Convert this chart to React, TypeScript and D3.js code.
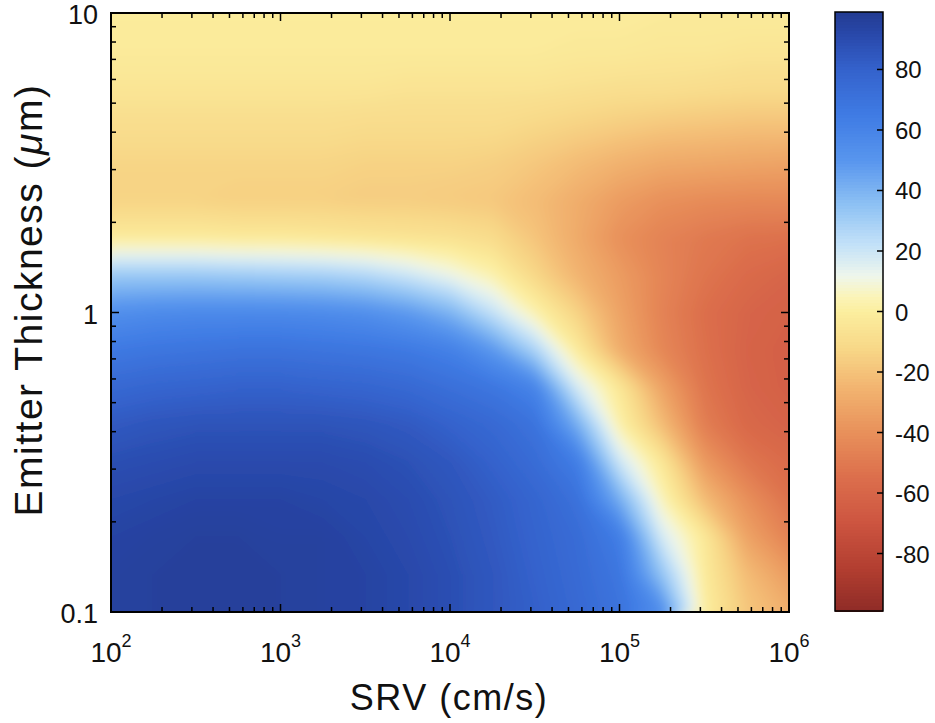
import React from 'react';
import * as d3 from 'd3';

// grid of SRV values (cm/s), left -> right
const srvGrid = [1e2, 1.78e2, 3.16e2, 5.62e2, 1e3, 1.78e3, 3.16e3, 5.62e3, 1e4, 1.78e4, 3.16e4, 5.62e4, 1e5, 1.78e5, 3.16e5, 5.62e5, 1e6];
// grid of emitter thickness (um), top -> bottom
const thickGrid = [10, 7.5, 5.62, 4.22, 3.16, 2.37, 1.78, 1.33, 1, 0.75, 0.562, 0.422, 0.316, 0.237, 0.178, 0.133, 0.1];

// values, one row per thickness
const row10 = [-1, -1, -1, -1, -1, -1, -1, -1, -1, -1, -1, -1, -1, -2, -2, -2, -2];
const row7_5 = [-2, -2, -2, -2, -2, -2, -2, -2, -2, -2, -2, -3, -3, -4, -4, -5, -5];
const row5_62 = [-5, -5, -5, -5, -5, -5, -5, -6, -6, -6, -6, -7, -8, -8, -9, -10, -10];
const row4_22 = [-9, -9, -9, -9, -9, -9, -10, -10, -10, -10, -12, -14, -16, -18, -19, -20, -20];
const row3_16 = [-13, -13, -13, -13, -13, -13, -14, -14, -14, -15, -18, -22, -26, -29, -30, -31, -32];
const row2_37 = [-14, -14, -14, -15, -15, -15, -16, -16, -17, -18, -22, -28, -35, -40, -42, -43, -43];
const row1_78 = [-2, -2, -2, -3, -3, -4, -5, -6, -7, -10, -19, -29, -40, -46, -50, -53, -54];
const row1_33 = [32, 32, 32, 31, 30, 29, 26, 20, 12, 3, -12, -25, -35, -45, -52, -57, -60];
const row1 = [54, 56, 57, 57, 57, 56, 54, 49, 40, 22, 3, -14, -32, -46, -55, -60, -62];
const row0_75 = [66, 68, 69, 70, 70, 69, 68, 66, 62, 50, 28, -2, -28, -44, -54, -61, -63];
const row0_562 = [76, 78, 79, 80, 80, 79, 78, 76, 72, 68, 60, 18, -4, -32, -52, -60, -63];
const row0_422 = [84, 86, 87, 87, 87, 87, 86, 84, 80, 76, 70, 42, 2, -22, -48, -58, -61];
const row0_316 = [89, 90, 91, 91, 91, 91, 90, 88, 85, 80, 74, 64, 20, -4, -36, -51, -57];
const row0_237 = [92, 93, 94, 94, 94, 93, 92, 90, 87, 83, 78, 71, 42, 5, -22, -40, -53];
const row0_178 = [94, 95, 96, 96, 95, 95, 93, 91, 88, 84, 79, 74, 64, 18, -3, -32, -46];
const row0_133 = [95, 96, 96, 96, 96, 95, 94, 92, 89, 85, 80, 75, 68, 34, -2, -22, -35];
const row0_1 = [95, 96, 96, 96, 96, 95, 94, 92, 89, 85, 81, 76, 70, 55, 0, -18, -27];

const rows = [row10, row7_5, row5_62, row4_22, row3_16, row2_37, row1_78, row1_33, row1,
  row0_75, row0_562, row0_422, row0_316, row0_237, row0_178, row0_133, row0_1];

// tick labels
const xTickExps = [2, 3, 4, 5, 6];
const yTickVals = [0.1, 1, 10];
const yTickLabels = ['0.1', '1', '10'];
const cbTicks = [-80, -60, -40, -20, 0, 20, 40, 60, 80];

// colormap
const cmapStops = [-100, -85, -70, -55, -40, -25, -12, 0, 5, 12, 22, 35, 50, 65, 80, 90, 100];
const cmapColors = ['#8c2a26', '#b23e30', '#cc5440', '#dc6e4c', '#e8905a', '#f2b470', '#f8d888', '#fbee9e',
  '#fbf4b8', '#eef6ec', '#c4e2f8', '#8fc2f4', '#5896ee', '#3f7be4', '#3462cc', '#2a4cb0', '#22398f'];

const W = 935;
const H = 723;
const font = 'Liberation Sans, Arial, Helvetica, sans-serif';

export default function App() {
  const left = 111, right = 789, top = 13, bottom = 612;
  const barL = 835, barR = 883, barT = 12, barB = 611;

  const x = d3.scaleLog().domain([1e2, 1e6]).range([left, right]);
  const y = d3.scaleLog().domain([0.1, 10]).range([bottom, top]);
  const cb = d3.scaleLinear().domain([-99, 99]).range([barB, barT]);
  const color = d3.scaleLinear<string>().domain(cmapStops).range(cmapColors)
    .interpolate(d3.interpolateRgb).clamp(true);

  // filled contours over the grid (grid point j sits at contour coord j + 0.5)
  const nx = srvGrid.length, ny = thickGrid.length;
  const px = srvGrid.map(v => x(v));
  const py = thickGrid.map(v => y(v));
  const dx = (px[nx - 1] - px[0]) / (nx - 1);
  const dy = (py[ny - 1] - py[0]) / (ny - 1);
  const flat = ([] as number[]).concat(...rows);
  const levels = d3.range(-100, 100, 1);
  const bands = d3.contours().size([nx, ny]).thresholds(levels)(flat);
  const path = d3.geoPath(d3.geoTransform({
    point(cx: number, cy: number) {
      (this as any).stream.point(px[0] + (cx - 0.5) * dx, py[0] + (cy - 0.5) * dy);
    }
  }));

  const xt = x.ticks();
  const yt = y.ticks();
  const isMajor = (v: number) => Math.abs(Math.log10(v) - Math.round(Math.log10(v))) < 1e-6;

  const barSteps = d3.range(-99, 99, 1);

  return (
    <svg width={W} height={H} style={{ display: 'block', position: 'absolute', left: 0, top: 0 }} fontFamily={font}>
      <rect width={W} height={H} fill="#fff" />
      <defs>
        <clipPath id="plotClip">
          <rect x={left} y={top} width={right - left} height={bottom - top} />
        </clipPath>
        <filter id="smooth" filterUnits="userSpaceOnUse" x={-100} y={-120} width={W + 200} height={H + 240}>
          <feGaussianBlur stdDeviation="6 7" />
        </filter>
      </defs>

      <g clipPath="url(#plotClip)">
        <g filter="url(#smooth)">
          {bands.map(b => (
            <path key={'b' + b.value} d={path(b as any) || ''} fill={color(b.value + 0.5)} stroke={color(b.value + 0.5)} strokeWidth={0.6} />
          ))}
        </g>
      </g>

      {/* ticks */}
      <g stroke="#000" strokeWidth={1.5}>
        {xt.map((v, k) => {
          const len = isMajor(v) ? 8 : 5;
          return (
            <g key={'xt' + k}>
              <line x1={x(v)} x2={x(v)} y1={bottom} y2={bottom - len} />
              <line x1={x(v)} x2={x(v)} y1={top} y2={top + len} />
            </g>
          );
        })}
        {yt.map((v, k) => {
          const len = isMajor(v) ? 8 : 5;
          return (
            <g key={'yt' + k}>
              <line x1={left} x2={left + len} y1={y(v)} y2={y(v)} />
              <line x1={right} x2={right - len} y1={y(v)} y2={y(v)} />
            </g>
          );
        })}
      </g>
      <rect x={left} y={top} width={right - left} height={bottom - top} fill="none" stroke="#000" strokeWidth={2} />

      {/* x tick labels */}
      {xTickExps.map(e => (
        <text key={'xl' + e} x={x(Math.pow(10, e))} y={662} textAnchor="middle" fontSize={28} fill="#111">
          10<tspan dy={-15} fontSize={18}>{e}</tspan>
        </text>
      ))}
      {/* y tick labels */}
      {yTickVals.map((v, k) => (
        <text key={'yl' + k} x={98} y={y(v) + 11} textAnchor="end" fontSize={27} fill="#111">{yTickLabels[k]}</text>
      ))}

      <text x={449} y={710} textAnchor="middle" fontSize={36} letterSpacing={1.5} fill="#111">SRV (cm/s)</text>
      <text transform="translate(42,300) rotate(-90)" textAnchor="middle" fontSize={39} letterSpacing={1.5} fill="#111">
        Emitter Thickness (<tspan fontStyle="italic">μ</tspan>m)
      </text>

      {/* colorbar */}
      <g shapeRendering="crispEdges">
        {barSteps.map(v => (
          <rect key={'cb' + v} x={barL} y={cb(v + 1)} width={barR - barL} height={cb(v) - cb(v + 1) + 0.6} fill={color(v + 0.5)} />
        ))}
      </g>
      <rect x={barL} y={barT} width={barR - barL} height={barB - barT} fill="none" stroke="#000" strokeWidth={1.5} />
      <g stroke="#000" strokeWidth={1.5}>
        {cbTicks.map(t => (
          <line key={'cbt' + t} x1={barR} x2={barR - 6} y1={cb(t)} y2={cb(t)} />
        ))}
      </g>
      {cbTicks.map(t => (
        <text key={'cbl' + t} x={895} y={cb(t) + 9} fontSize={24} fill="#111">{t}</text>
      ))}
    </svg>
  );
}
